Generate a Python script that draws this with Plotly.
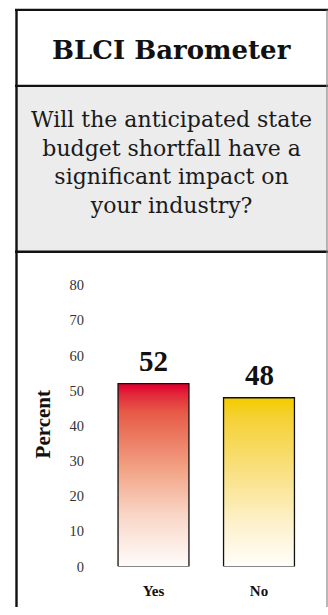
import plotly.graph_objects as go

# ---- data ----
categories = ["Yes", "No"]
values = [52, 48]
y_ticks = [0, 10, 20, 30, 40, 50, 60, 70, 80]
title_text = "BLCI Barometer"
question_lines = ["Will the anticipated state", "budget shortfall have a",
                  "significant impact on", "your industry?"]
y_title = "Percent"

# ---- styles ----
W, H = 328, 615
FONT = "Liberation Serif"
HEAD_FONT = "DejaVu Serif"
scales = [
    [[0, "#ffffff"], [0.3, "#f9d6c6"], [0.55, "#f2a284"], [0.85, "#e75b47"], [0.95, "#e2283a"], [1, "#e1002d"]],
    [[0, "#ffffff"], [0.3, "#fdf0c6"], [0.6, "#f9df7c"], [0.9, "#f5d133"], [1, "#f4cc00"]],
]

def px(x):
    return x / W

def py(y):
    return 1 - y / H

fig = go.Figure()

half = 0.336
for i, (cat, v) in enumerate(zip(categories, values)):
    fig.add_trace(go.Scatter(
        x=[i - half, i - half, i + half, i + half, i - half],
        y=[0, v, v, 0, 0],
        mode="lines", fill="toself",
        line=dict(color="#111111", width=1.3),
        fillgradient=dict(type="vertical", colorscale=scales[i], start=0, stop=v),
        hoverinfo="skip", showlegend=False,
    ))

# plot geometry
x_dom0 = 85
c0, step = 153.5, 105.5
y0_px, ytop_px = 574, 280
unit = (574 - 289) / 80.0

fig.update_xaxes(
    domain=[px(x_dom0), 1],
    range=[(x_dom0 - c0) / step, (W - c0) / step],
    tickvals=list(range(len(categories))),
    ticktext=[f"<b>{c}</b>" for c in categories],
    tickfont=dict(family=FONT, size=15, color="#111111"),
    ticklabelstandoff=13,
    showgrid=False, zeroline=False, showline=False, ticks="",
)
fig.update_yaxes(
    domain=[py(y0_px), py(ytop_px)],
    range=[0, (y0_px - ytop_px) / unit],
    tickvals=y_ticks,
    tickfont=dict(family=FONT, size=14.5, color="#333333"),
    showgrid=False, zeroline=False, showline=False, ticks="",
)

shapes = [
    dict(type="rect", xref="paper", yref="paper", x0=px(16), x1=px(327), y0=py(88), y1=py(255),
         fillcolor="#ececec", line=dict(width=0), layer="below"),
    dict(type="line", xref="paper", yref="paper", x0=px(15), x1=px(328), y0=py(10), y1=py(10),
         line=dict(color="#111111", width=2.2)),
    dict(type="line", xref="paper", yref="paper", x0=px(15), x1=px(328), y0=py(87), y1=py(87),
         line=dict(color="#111111", width=2.2)),
    dict(type="line", xref="paper", yref="paper", x0=px(15), x1=px(328), y0=py(255), y1=py(255),
         line=dict(color="#111111", width=2.4)),
    dict(type="line", xref="paper", yref="paper", x0=px(16.5), x1=px(16.5), y0=py(9), y1=0,
         line=dict(color="#111111", width=2.4)),
    dict(type="line", xref="paper", yref="paper", x0=px(327), x1=px(327), y0=py(10), y1=0,
         line=dict(color="#888888", width=1.2)),
]

annotations = [
    dict(text=f"<b>{title_text}</b>", x=px(171.5), y=py(51), xref="paper", yref="paper",
         showarrow=False, xanchor="center", yanchor="middle",
         font=dict(family=HEAD_FONT, size=26, color="#111111")),
    dict(text=f"<b>{y_title}</b>", x=px(43), y=py(430), xref="paper", yref="paper",
         showarrow=False, textangle=-90, xanchor="center", yanchor="middle",
         font=dict(family=FONT, size=21, color="#111111")),
    dict(text="<br>".join(question_lines), x=px(171.5), y=py(165), xref="paper", yref="paper",
         showarrow=False, xanchor="center", yanchor="middle", align="center",
         font=dict(family=HEAD_FONT, size=22, color="#1a1a1a")),
]
for i, v in enumerate(values):
    annotations.append(dict(text=f"<b>{v}</b>", x=i, y=v, xref="x", yref="y",
                            showarrow=False, xanchor="center", yanchor="bottom", yshift=5,
                            font=dict(family=FONT, size=29, color="#111111")))

fig.update_layout(
    width=W, height=H,
    margin=dict(l=0, r=0, t=0, b=0),
    paper_bgcolor="white", plot_bgcolor="white",
    shapes=shapes, annotations=annotations,
    showlegend=False,
)

fig.write_html("out.html", config={"displayModeBar": False})
